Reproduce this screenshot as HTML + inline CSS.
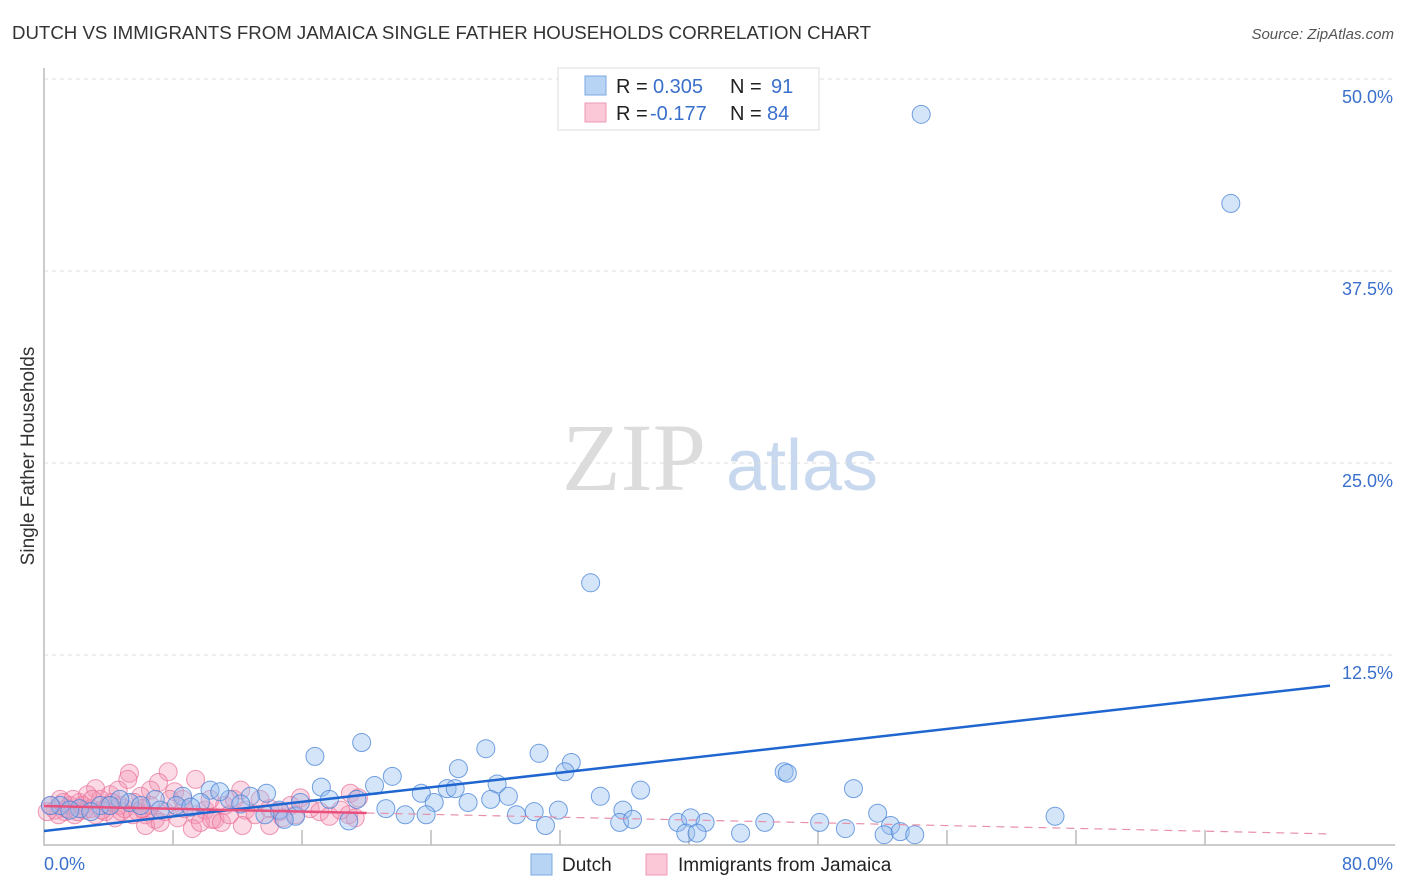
<!DOCTYPE html>
<html><head><meta charset="utf-8"><style>
body{margin:0;background:#fff;font-family:"Liberation Sans",sans-serif;}
svg{display:block}
</style></head><body>
<svg id="chart" width="1406" height="892" viewBox="0 0 1406 892" font-family="Liberation Sans, sans-serif">
<text x="12" y="39" font-size="18" fill="#333" textLength="859" lengthAdjust="spacingAndGlyphs">DUTCH VS IMMIGRANTS FROM JAMAICA SINGLE FATHER HOUSEHOLDS CORRELATION CHART</text>
<text x="1394" y="39" font-size="15" fill="#555" text-anchor="end" font-style="italic">Source: ZipAtlas.com</text>
<text transform="translate(34,456) rotate(-90)" font-size="19" fill="#333" text-anchor="middle">Single Father Households</text>
<g>
<text x="634" y="490" font-size="96" fill="#dcdcdc" text-anchor="middle" font-family="Liberation Serif, serif">ZIP</text>
<text x="802" y="490" font-size="72" fill="#c8d8ee" text-anchor="middle">atlas</text>
</g>
<g id="grid"></g>
<g id="marks"></g>
<g>
<rect x="558" y="68" width="261" height="62" fill="#fff" stroke="#ddd"/>
<rect x="585" y="76" width="21" height="19" fill="#b8d4f5" stroke="#7aa8e0"/>
<rect x="585" y="103" width="21" height="19" fill="#fbc8d8" stroke="#ee9ab5"/>
<text x="616" y="93" font-size="20" fill="#222">R =</text>
<text x="653" y="93" font-size="20" fill="#3a70cc">0.305</text>
<text x="730" y="93" font-size="20" fill="#222">N =</text>
<text x="771" y="93" font-size="20" fill="#3a70cc">91</text>
<text x="616" y="120" font-size="20" fill="#222">R =</text>
<text x="650" y="120" font-size="20" fill="#3a70cc">-0.177</text>
<text x="730" y="120" font-size="20" fill="#222">N =</text>
<text x="767" y="120" font-size="20" fill="#3a70cc">84</text>
</g>
<g>
<rect x="531" y="854" width="21" height="21" fill="#b8d4f5" stroke="#7aa8e0"/>
<text x="562" y="871" font-size="19" fill="#222">Dutch</text>
<rect x="646" y="854" width="21" height="21" fill="#fbc8d8" stroke="#ee9ab5"/>
<text x="678" y="871" font-size="19" fill="#222">Immigrants from Jamaica</text>
</g>
</svg>
<script>
const yTicks=[12.5,25,37.5,50];
const yTickLabels=["12.5%","25.0%","37.5%","50.0%"];
const xTicks=[0,8,16,24,32,40,48,56,64,72,80];
const dutchX=[54.4,73.6,33.9,16.8,19.7,27.4,30.7,32.7,25.7,32.3,45.9,46.1,21.6,50.2,37.0,28.1,17.2,20.5,25.0,23.4,25.5,10.3,13.8,34.5,28.8,27.7,26.3,24.2,17.7,19.4,21.2,22.4,23.7,29.3,30.4,31.9,35.9,31.1,18.9,35.7,36.5,39.3,40.1,41.0,39.8,40.5,43.2,44.7,48.1,49.7,51.7,52.5,52.1,53.1,54.0,62.7,15.6,14.6,15.9,12.8,11.5,12.2,8.6,8.2,6.9,5.3,4.7,3.5,2.2,1.0,0.4,1.6,2.9,4.1,6.0,7.2,9.7,10.9,9.1,13.7,14.9];
const dutchY=[47.7,41.9,17.2,5.9,6.8,6.4,6.1,5.5,5.1,4.9,4.9,4.8,4.6,3.8,3.7,4.1,3.9,4.0,3.8,3.5,3.8,3.7,3.5,3.3,3.3,3.1,2.9,2.9,3.1,3.1,2.5,2.1,2.1,2.1,2.3,2.4,2.4,1.4,1.7,1.6,1.8,1.6,1.9,1.6,0.9,0.9,0.9,1.6,1.6,1.2,2.2,1.4,0.8,1.0,0.8,2.0,2.0,2.4,2.9,3.3,3.1,2.8,3.3,2.7,3.1,2.9,3.1,2.7,2.5,2.7,2.7,2.4,2.3,2.7,2.7,2.4,2.9,3.6,2.6,2.1,1.8];
const jamX=[5.3,7.7,7.1,9.4,6.6,3.2,4.1,6.0,8.1,1.0,1.6,2.2,2.9,3.5,4.7,0.7,1.3,1.9,2.5,3.8,4.4,5.0,5.6,6.3,6.9,7.5,8.7,9.4,10.0,10.6,11.2,11.8,12.5,13.1,14.0,14.6,15.3,15.9,16.5,17.1,17.7,19.0,19.5,18.9,19.3,6.3,7.2,9.2,9.7,10.4,11.0,12.3,14.0,14.8,5.2,4.6,2.7,0.4,0.9,0.2,1.4,2.1,3.2,4.0,5.8,7.8,8.6,6.6,11.5,13.4,15.6,12.2,10.3,18.4,8.3,1.2,1.8,2.4,3.0,3.6,4.2,4.8,5.5,6.1];
const jamY=[4.8,4.9,4.2,4.4,3.7,3.8,3.4,3.3,3.6,3.1,2.7,2.9,2.5,3.1,2.7,2.4,2.3,2.1,2.4,2.3,1.9,2.5,2.9,2.1,1.8,2.3,2.5,2.1,2.4,1.8,2.7,3.1,2.4,2.1,2.5,2.3,2.7,3.2,2.5,2.3,2.0,3.5,3.2,2.1,1.9,1.4,1.6,1.2,1.6,1.8,1.6,1.4,1.4,1.9,4.4,3.7,3.4,2.7,2.1,2.3,2.5,2.3,2.1,2.7,2.3,3.1,3.1,2.7,2.1,3.1,2.1,3.7,3.1,2.4,1.9,2.9,3.1,2.7,3.1,2.4,2.9,2.3,2.1,2.5];
const dutchTrend=[1.04,0.1187];
const jamTrend=[2.67,-0.0228];
const jamSolidEnd=20;

const NS="http://www.w3.org/2000/svg";
const X0=44,X1=1334,Y0=847,YPER=15.36;
const sx=v=>X0+v/80*(X1-X0);
const sy=v=>Y0-v*YPER;
function mk(tag,parent,attrs){const e=document.createElementNS(NS,tag);for(const k in attrs)e.setAttribute(k,attrs[k]);parent.appendChild(e);return e;}
const grid=document.getElementById('grid'),marks=document.getElementById('marks');
yTicks.forEach((t,i)=>{
 const l=mk('line',grid,{x1:44,x2:1395,y1:sy(t),y2:sy(t),stroke:'#ddd','stroke-dasharray':'4,4'});
 
 
 const tx=mk('text',grid,{x:1393,y:sy(t)+24,'font-size':18,fill:'#3a70cc','text-anchor':'end'});
 tx.textContent=yTickLabels[i];
 
 
});
const ax=mk('path',grid,{d:'M44 68 V845 H1395',fill:'none',stroke:'#bbb','stroke-width':1.5});


xTicks.slice(1,-1).forEach(t=>{
 const l=mk('line',grid,{x1:sx(t),x2:sx(t),y1:830,y2:845,stroke:'#bbb','stroke-width':1.5});
 
 
});
[["0.0%",44,'start'],["80.0%",1393,'end']].forEach(a=>{
 const tx=mk('text',grid,{x:a[1],y:870,'font-size':18,fill:'#3a70cc','text-anchor':a[2]});
 tx.textContent=a[0];
 
 
});
jamX.forEach((v,i)=>{
 const c=mk('circle',marks,{cx:sx(v),cy:sy(jamY[i]),r:9,fill:'rgba(244,150,180,0.35)',stroke:'rgba(232,110,150,0.7)'});
 
 
});
dutchX.forEach((v,i)=>{
 const c=mk('circle',marks,{cx:sx(v),cy:sy(dutchY[i]),r:9,fill:'rgba(150,190,240,0.4)',stroke:'rgba(70,130,215,0.75)'});
 
 
});
const xe=79.75;
let l=mk('line',marks,{x1:sx(0),y1:sy(dutchTrend[0]),x2:sx(xe),y2:sy(dutchTrend[0]+dutchTrend[1]*xe),stroke:'#1f66d0','stroke-width':2.5});


l=mk('line',marks,{x1:sx(0),y1:sy(jamTrend[0]),x2:sx(jamSolidEnd),y2:sy(jamTrend[0]+jamTrend[1]*jamSolidEnd),stroke:'#e8507e','stroke-width':2.5});


l=mk('line',marks,{x1:sx(jamSolidEnd),y1:sy(jamTrend[0]+jamTrend[1]*jamSolidEnd),x2:sx(xe),y2:sy(jamTrend[0]+jamTrend[1]*xe),stroke:'#e890aa','stroke-width':1.2,'stroke-dasharray':'8,6'});


</script>
</body></html>
